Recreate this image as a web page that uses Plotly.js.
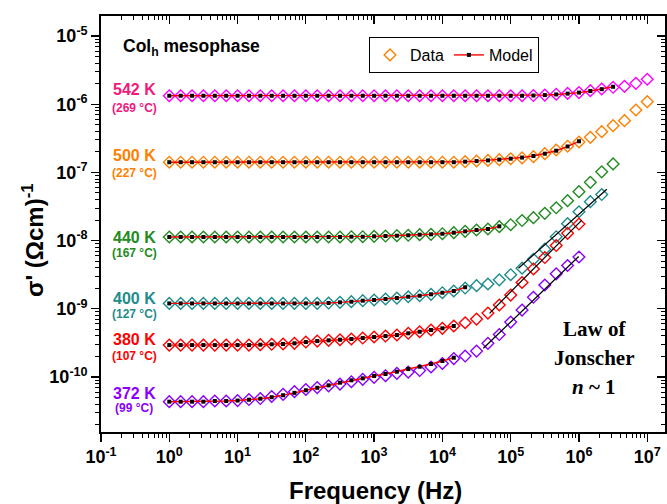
<!DOCTYPE html>
<html>
<head>
<meta charset="utf-8">
<script src="https://cdn.plot.ly/plotly-3.0.1.min.js"></script>
<style>html,body{margin:0;padding:0;background:#fff;}#chart{width:667px;height:504px;}</style>
</head>
<body>
<div id="chart"></div>
<script>
// Frequencies (Hz), 6 points per decade
const freq = [1, 1.468, 2.154, 3.162, 4.642, 6.813, 10, 14.68, 21.54, 31.62, 46.42, 68.13,
  100, 146.8, 215.4, 316.2, 464.2, 681.3, 1000, 1468, 2154, 3162, 4642, 6813,
  1e4, 1.468e4, 2.154e4, 3.162e4, 4.642e4, 6.813e4, 1e5, 1.468e5, 2.154e5, 3.162e5, 4.642e5, 6.813e5,
  1e6, 1.468e6, 2.154e6, 3.162e6, 4.642e6, 6.813e6, 1e7];

// Measured conductivity sigma' (S/cm)
const sigma542 = [1.33e-6, 1.33e-6, 1.33e-6, 1.33e-6, 1.33e-6, 1.33e-6, 1.33e-6, 1.33e-6, 1.33e-6, 1.33e-6,
  1.33e-6, 1.33e-6, 1.33e-6, 1.33e-6, 1.33e-6, 1.33e-6, 1.33e-6, 1.33e-6, 1.33e-6, 1.33e-6,
  1.33e-6, 1.33e-6, 1.33e-6, 1.33e-6, 1.33e-6, 1.33e-6, 1.33e-6, 1.33e-6, 1.33e-6, 1.33e-6,
  1.33e-6, 1.33e-6, 1.34e-6, 1.36e-6, 1.40e-6, 1.44e-6, 1.48e-6, 1.58e-6, 1.67e-6, 1.77e-6,
  1.83e-6, 2.02e-6, 2.32e-6];
const sigma500 = [1.41e-7, 1.41e-7, 1.41e-7, 1.41e-7, 1.41e-7, 1.41e-7, 1.41e-7, 1.41e-7, 1.41e-7, 1.41e-7,
  1.41e-7, 1.41e-7, 1.41e-7, 1.41e-7, 1.41e-7, 1.41e-7, 1.41e-7, 1.41e-7, 1.41e-7, 1.41e-7,
  1.41e-7, 1.41e-7, 1.41e-7, 1.41e-7, 1.41e-7, 1.41e-7, 1.435e-7, 1.47e-7, 1.50e-7, 1.535e-7,
  1.585e-7, 1.63e-7, 1.70e-7, 1.88e-7, 2.13e-7, 2.42e-7, 2.79e-7, 3.27e-7, 3.95e-7, 4.84e-7,
  5.73e-7, 8.22e-7, 1.09e-6];
const sigma440 = [1.13e-8, 1.13e-8, 1.13e-8, 1.13e-8, 1.13e-8, 1.13e-8, 1.13e-8, 1.13e-8, 1.13e-8, 1.13e-8,
  1.13e-8, 1.13e-8, 1.13e-8, 1.13e-8, 1.13e-8, 1.13e-8, 1.14e-8, 1.14e-8, 1.155e-8, 1.167e-8,
  1.18e-8, 1.197e-8, 1.222e-8, 1.236e-8, 1.262e-8, 1.306e-8, 1.368e-8, 1.43e-8, 1.48e-8, 1.60e-8,
  1.71e-8, 1.97e-8, 2.17e-8, 2.51e-8, 3.03e-8, 3.85e-8, 5.21e-8, 7.16e-8, 1.02e-7, 1.33e-7];
const sigma400 = [1.2e-9, 1.2e-9, 1.2e-9, 1.2e-9, 1.2e-9, 1.2e-9, 1.2e-9, 1.2e-9, 1.2e-9, 1.2e-9,
  1.2e-9, 1.2e-9, 1.2e-9, 1.2e-9, 1.216e-9, 1.245e-9, 1.271e-9, 1.315e-9, 1.346e-9, 1.393e-9,
  1.439e-9, 1.503e-9, 1.556e-9, 1.633e-9, 1.722e-9, 1.824e-9, 2.018e-9, 2.183e-9, 2.312e-9, 2.66e-9,
  3.16e-9, 3.94e-9, 5.32e-9, 7.48e-9, 1.14e-8, 1.77e-8, 2.65e-8, 3.72e-8, 4.74e-8];
const sigma380 = [2.94e-10, 2.94e-10, 2.94e-10, 2.94e-10, 2.94e-10, 2.94e-10, 2.94e-10, 2.94e-10, 2.98e-10, 3.02e-10,
  3.05e-10, 3.12e-10, 3.26e-10, 3.37e-10, 3.45e-10, 3.52e-10, 3.61e-10, 3.73e-10, 3.86e-10, 3.99e-10,
  4.13e-10, 4.38e-10, 4.61e-10, 4.89e-10, 5.18e-10, 5.60e-10, 6.25e-10, 7.08e-10, 8.67e-10, 1.138e-9,
  1.592e-9, 2.432e-9, 3.837e-9, 5.649e-9, 8.47e-9, 1.279e-8, 1.75e-8];
const sigma372 = [4.35e-11, 4.35e-11, 4.35e-11, 4.35e-11, 4.45e-11, 4.45e-11, 4.52e-11, 4.68e-11, 4.84e-11, 5.18e-11,
  5.57e-11, 6.10e-11, 6.56e-11, 7.01e-11, 7.43e-11, 7.89e-11, 8.53e-11, 9.25e-11, 9.91e-11, 1.045e-10,
  1.132e-10, 1.183e-10, 1.245e-10, 1.403e-10, 1.578e-10, 1.866e-10, 2.032e-10, 2.404e-10, 3.119e-10, 4.198e-10,
  6.397e-10, 9.594e-10, 1.476e-9, 2.234e-9, 3.258e-9, 4.315e-9, 5.754e-9];

// Model fits (same frequency grid, shorter)
const model542 = [1.33e-6, 1.33e-6, 1.33e-6, 1.33e-6, 1.33e-6, 1.33e-6, 1.33e-6, 1.33e-6, 1.33e-6, 1.33e-6,
  1.33e-6, 1.33e-6, 1.33e-6, 1.33e-6, 1.33e-6, 1.33e-6, 1.33e-6, 1.33e-6, 1.33e-6, 1.33e-6,
  1.33e-6, 1.33e-6, 1.33e-6, 1.33e-6, 1.33e-6, 1.33e-6, 1.33e-6, 1.33e-6, 1.33e-6, 1.33e-6,
  1.33e-6, 1.33e-6, 1.34e-6, 1.36e-6, 1.39e-6, 1.43e-6, 1.48e-6, 1.56e-6, 1.66e-6, 1.80e-6];
const model500 = [1.41e-7, 1.41e-7, 1.41e-7, 1.41e-7, 1.41e-7, 1.41e-7, 1.41e-7, 1.41e-7, 1.41e-7, 1.41e-7,
  1.41e-7, 1.41e-7, 1.41e-7, 1.41e-7, 1.41e-7, 1.41e-7, 1.41e-7, 1.41e-7, 1.41e-7, 1.41e-7,
  1.41e-7, 1.41e-7, 1.41e-7, 1.41e-7, 1.41e-7, 1.41e-7, 1.435e-7, 1.465e-7, 1.50e-7, 1.54e-7,
  1.59e-7, 1.65e-7, 1.74e-7, 1.88e-7, 2.08e-7, 2.40e-7, 2.86e-7];
const model440 = [1.13e-8, 1.13e-8, 1.13e-8, 1.13e-8, 1.13e-8, 1.13e-8, 1.13e-8, 1.13e-8, 1.13e-8, 1.13e-8,
  1.13e-8, 1.13e-8, 1.13e-8, 1.13e-8, 1.13e-8, 1.13e-8, 1.14e-8, 1.14e-8, 1.155e-8, 1.167e-8,
  1.18e-8, 1.197e-8, 1.222e-8, 1.236e-8, 1.262e-8, 1.306e-8, 1.368e-8, 1.43e-8, 1.48e-8, 1.62e-8];
const model400 = [1.2e-9, 1.2e-9, 1.2e-9, 1.2e-9, 1.2e-9, 1.2e-9, 1.2e-9, 1.2e-9, 1.2e-9, 1.2e-9,
  1.2e-9, 1.2e-9, 1.2e-9, 1.2e-9, 1.216e-9, 1.245e-9, 1.271e-9, 1.315e-9, 1.346e-9, 1.393e-9,
  1.439e-9, 1.503e-9, 1.556e-9, 1.633e-9, 1.722e-9, 1.824e-9, 2.07e-9];
const model380 = [2.94e-10, 2.94e-10, 2.94e-10, 2.94e-10, 2.94e-10, 2.94e-10, 2.94e-10, 2.94e-10, 2.98e-10, 3.02e-10,
  3.05e-10, 3.12e-10, 3.26e-10, 3.37e-10, 3.45e-10, 3.52e-10, 3.61e-10, 3.73e-10, 3.86e-10, 3.99e-10,
  4.13e-10, 4.38e-10, 4.61e-10, 4.89e-10, 5.18e-10, 5.60e-10];
const model372 = [4.35e-11, 4.35e-11, 4.35e-11, 4.35e-11, 4.45e-11, 4.45e-11, 4.52e-11, 4.65e-11, 4.81e-11, 5.06e-11,
  5.41e-11, 5.86e-11, 6.40e-11, 6.95e-11, 7.55e-11, 8.26e-11, 8.95e-11, 9.57e-11, 1.035e-10, 1.107e-10,
  1.197e-10, 1.309e-10, 1.416e-10, 1.552e-10, 1.718e-10, 1.919e-10];

// Jonscher power-law lines (end points)
const jonscherF400 = [1.30e5, 2.56e6], jonscherS400 = [3.93e-9, 5.65e-8];
const jonscherF380 = [4.9e4, 1.10e6],  jonscherS380 = [8.59e-10, 2.00e-8];
const jonscherF372 = [3.98e4, 9.9e5],  jonscherS372 = [2.64e-10, 5.85e-9];

// Labels
const tempK = ['542 K', '500 K', '440 K', '400 K', '380 K', '372 K'];
const tempC = ['(269 °C)', '(227 °C)', '(167 °C)', '(127 °C)', '(107 °C)', '(99 °C)'];
const xTickVals = [0.1, 1, 10, 100, 1e3, 1e4, 1e5, 1e6, 1e7];
const xTickText = ['10<sup>-1</sup>', '10<sup>0</sup>', '10<sup>1</sup>', '10<sup>2</sup>', '10<sup>3</sup>',
  '10<sup>4</sup>', '10<sup>5</sup>', '10<sup>6</sup>', '10<sup>7</sup>'];
const yTickVals = [1e-10, 1e-9, 1e-8, 1e-7, 1e-6, 1e-5];
const yTickText = ['10<sup>-10</sup>', '10<sup>-9</sup>', '10<sup>-8</sup>', '10<sup>-7</sup>', '10<sup>-6</sup>', '10<sup>-5</sup>'];

// ---- build ----
const colors = ['#FF00FF', '#FF8000', '#228B22', '#1F8C8C', '#FF0000', '#8A00FF'];
const labelColors = ['#F0197D', '#FF8000', '#228B22', '#1F8C8C', '#FF0000', '#8A00FF'];
const dataSets = [sigma542, sigma500, sigma440, sigma400, sigma380, sigma372];
const modelSets = [model542, model500, model440, model400, model380, model372];

const SANS = 'Liberation Sans, Arial, sans-serif';
const SERIF = 'Liberation Serif, Times New Roman, serif';

function minorVals(lo, hi) {
  const out = [];
  for (let e = lo; e <= hi; e++) for (let m = 2; m <= 9; m++) out.push(m * Math.pow(10, e));
  return out;
}
const xMinor = minorVals(-1, 6);
const yMinor = minorVals(-11, -5);

const traces = [];
dataSets.forEach((d, i) => {
  traces.push({
    x: freq.slice(0, d.length), y: d, type: 'scatter', mode: 'markers',
    name: 'Data', showlegend: i === 1, legendrank: 1,
    marker: {symbol: 'diamond-open', size: 9, color: colors[i], line: {width: 1.4, color: colors[i]}},
    hoverinfo: 'skip'
  });
});
[[jonscherF400, jonscherS400], [jonscherF380, jonscherS380], [jonscherF372, jonscherS372]].forEach(p => {
  traces.push({x: p[0], y: p[1], type: 'scatter', mode: 'lines', showlegend: false,
    line: {color: 'black', width: 1.2}, hoverinfo: 'skip'});
});
modelSets.forEach((m, i) => {
  traces.push({
    x: freq.slice(0, m.length), y: m, type: 'scatter', mode: 'lines+markers',
    name: 'Model', showlegend: i === 1, legendrank: 2,
    line: {color: '#FF0000', width: 1.4},
    marker: {symbol: 'square', size: 4, color: 'black'},
    hoverinfo: 'skip'
  });
});
traces.push({x: [1], y: [1e-8], xaxis: 'x2', yaxis: 'y2', type: 'scatter', mode: 'markers',
  marker: {opacity: 0}, showlegend: false, hoverinfo: 'skip'});

const L = 101, R = 665, T = 16, B = 432;
const px = x => (x - L) / (R - L);
const py = y => (B - y) / (B - T);

const annotations = [];
const kY = [89.5, 155.7, 237.3, 298.3, 339.3, 393.3];
const cY = [108, 173.3, 252.5, 314.3, 356, 408.3];
tempK.forEach((t, i) => {
  annotations.push({xref: 'paper', yref: 'paper', x: px(134), y: py(kY[i]), xanchor: 'center', yanchor: 'middle',
    text: '<b>' + t + '</b>', showarrow: false, font: {family: SANS, size: 16, color: labelColors[i]}});
  annotations.push({xref: 'paper', yref: 'paper', x: px(134), y: py(cY[i]), xanchor: 'center', yanchor: 'middle',
    text: '<b>' + tempC[i] + '</b>', showarrow: false, font: {family: SANS, size: 12, color: labelColors[i]}});
});
annotations.push({xref: 'paper', yref: 'paper', x: px(121), y: py(48), xanchor: 'left', yanchor: 'middle',
  text: '<b>Col<sub>h</sub> mesophase</b>', showarrow: false, font: {family: SANS, size: 17.5, color: 'black'}});
annotations.push({xref: 'paper', yref: 'paper', x: px(594), y: py(329), xanchor: 'center', yanchor: 'middle',
  text: '<b>Law of</b>', showarrow: false, font: {family: SERIF, size: 21, color: 'black'}});
annotations.push({xref: 'paper', yref: 'paper', x: px(594), y: py(358), xanchor: 'center', yanchor: 'middle',
  text: '<b>Jonscher</b>', showarrow: false, font: {family: SERIF, size: 21, color: 'black'}});
annotations.push({xref: 'paper', yref: 'paper', x: px(594), y: py(387), xanchor: 'center', yanchor: 'middle',
  text: '<b><i>n</i> ~ 1</b>', showarrow: false, font: {family: SERIF, size: 21, color: 'black'}});
annotations.push({xref: 'paper', yref: 'paper', x: px(375), y: py(490), xanchor: 'center', yanchor: 'middle',
  text: '<b>Frequency (Hz)</b>', showarrow: false, font: {family: SANS, size: 24, color: 'black'}});
annotations.push({xref: 'paper', yref: 'paper', x: px(33), y: py(240), xanchor: 'center', yanchor: 'middle',
  textangle: -90, text: "<b>σ' (Ωcm)<sup>-1</sup></b>", showarrow: false, font: {family: SANS, size: 24, color: 'black'}});

const xr = [-1, 7.26], yr = [-10.806, -4.707];
const common = {type: 'log', showgrid: false, zeroline: false, showline: true, linecolor: 'black', linewidth: 1.8,
  tickcolor: 'black', tickwidth: 1.3, ticklen: 8};
const layout = {
  width: 667, height: 504,
  margin: {l: L, r: 667 - R, t: T, b: 504 - B, pad: 0},
  paper_bgcolor: 'white', plot_bgcolor: 'white',
  showlegend: true,
  legend: {x: px(369), y: py(37), xanchor: 'left', yanchor: 'top', orientation: 'h',
    bordercolor: 'black', borderwidth: 1, bgcolor: 'white',
    font: {family: SANS, size: 16, color: 'black'}},
  xaxis: Object.assign({}, common, {range: xr, tickmode: 'array', tickvals: xTickVals, ticktext: xTickText.map(t => '<b>' + t + '</b>'),
    ticks: 'outside', tickfont: {family: SANS, size: 18, color: 'black'},
    minor: {tickvals: xMinor, ticks: 'outside', ticklen: 4, tickwidth: 1, tickcolor: 'black', showgrid: false}}),
  yaxis: Object.assign({}, common, {range: yr, tickmode: 'array', tickvals: yTickVals, ticktext: yTickText.map(t => '<b>' + t + '</b>'),
    ticks: 'outside', tickfont: {family: SANS, size: 18, color: 'black'},
    minor: {tickvals: yMinor, ticks: 'outside', ticklen: 4, tickwidth: 1, tickcolor: 'black', showgrid: false}}),
  xaxis2: Object.assign({}, common, {range: xr, overlaying: 'x', side: 'top', anchor: 'y2', tickmode: 'array', tickvals: xTickVals,
    showticklabels: false, ticks: 'inside',
    minor: {tickvals: xMinor, ticks: 'inside', ticklen: 4, tickwidth: 1, tickcolor: 'black', showgrid: false}}),
  yaxis2: Object.assign({}, common, {range: yr, overlaying: 'y', side: 'right', anchor: 'x2', tickmode: 'array', tickvals: yTickVals,
    showticklabels: false, ticks: 'inside',
    minor: {tickvals: yMinor, ticks: 'inside', ticklen: 4, tickwidth: 1, tickcolor: 'black', showgrid: false}}),
  annotations: annotations
};

Plotly.newPlot('chart', traces, layout, {staticPlot: true, displayModeBar: false});
</script>
</body>
</html>
